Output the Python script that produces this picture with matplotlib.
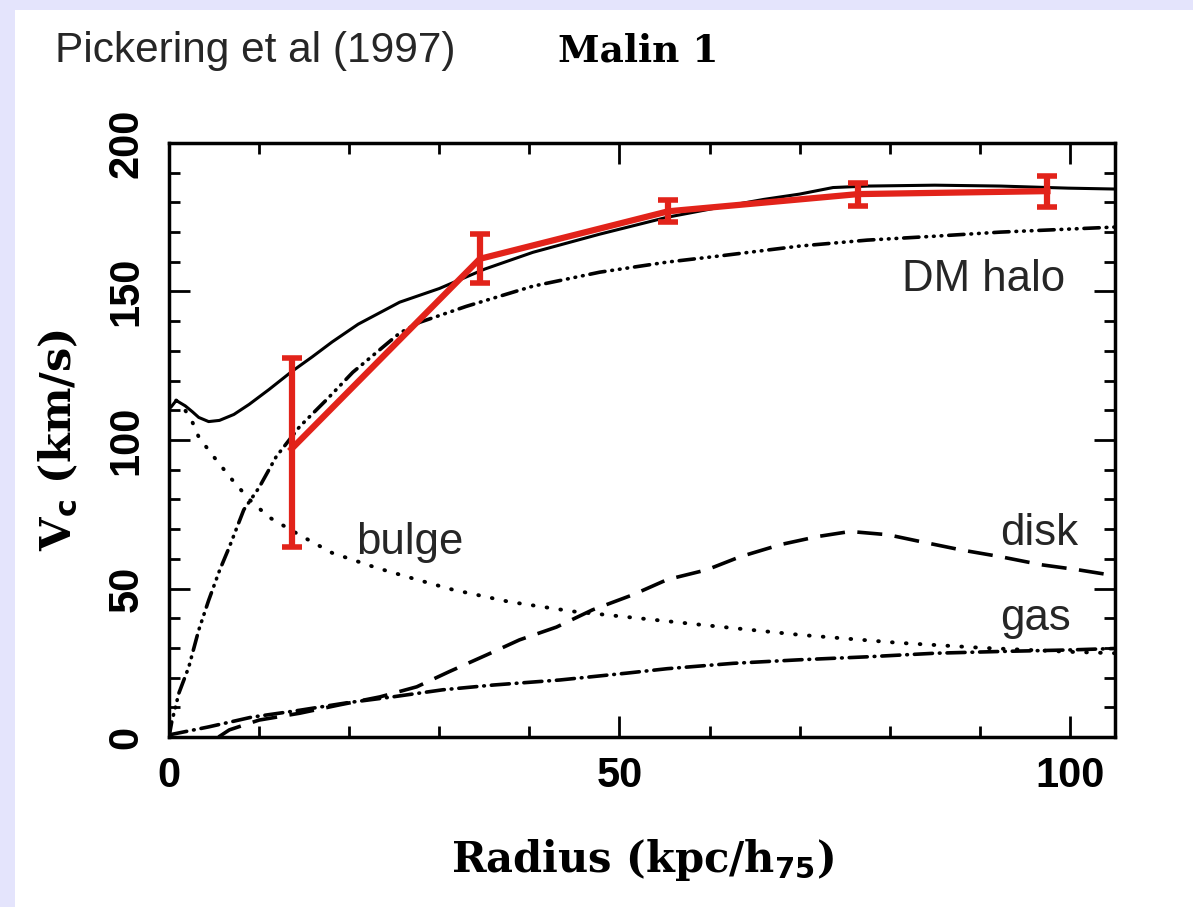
import matplotlib
matplotlib.use('Agg')
import matplotlib.pyplot as plt
from matplotlib.patches import Rectangle
from matplotlib.ticker import MultipleLocator

plt.rcParams['lines.scale_dashes'] = False   # dash lengths in points

# %% Data (radius in kpc/h75, velocity in km/s)
r_obs = [13.6, 34.5, 55.4, 76.5, 97.5]
v_obs = [97.0, 161.0, 177.0, 182.8, 183.8]
err_lo = [33.0, 8.0, 3.7, 4.0, 5.2]
err_hi = [30.5, 8.3, 3.8, 3.7, 5.2]

r_tot = [0.2, 0.8, 1.8, 2.6, 3.3, 4.4, 5.6, 7.2, 8.9, 11.1, 13.6, 15.9, 18.1, 21.0,
         25.6, 30.0, 35.0, 40.4, 47.8, 55.3, 61.2, 66.0, 70.0, 73.7, 77.5, 85.0,
         92.3, 99.8, 105.0]
v_tot = [111.0, 113.3, 111.5, 109.5, 107.6, 106.2, 106.6, 108.6, 112.0, 117.0, 123.0,
         128.0, 133.0, 139.0, 146.4, 151.0, 157.5, 163.2, 169.3, 175.0, 178.4, 181.0,
         182.8, 185.0, 185.5, 185.8, 185.5, 184.8, 184.5]

r_bulge = [0.8, 1.8, 2.6, 3.3, 4.8, 6.9, 8.9, 11.1, 14.5, 18.1, 23.0, 27.5, 31.5,
           37.8, 44.8, 53.7, 59.0, 70.0, 81.0, 90.4, 99.8, 105.0]
v_bulge = [113.3, 110.0, 106.0, 101.0, 95.0, 87.0, 80.0, 74.0, 68.0, 62.0, 57.0, 53.0,
           49.6, 45.5, 42.3, 39.5, 37.8, 34.4, 31.7, 30.0, 28.7, 28.2]

r_halo = [0.0, 0.3, 1.1, 2.2, 3.3, 4.4, 5.6, 6.7, 8.3, 10.0, 11.9, 14.5, 17.5, 20.4,
          25.6, 27.8, 33.0, 40.4, 47.8, 55.3, 61.2, 70.0, 77.5, 84.9, 92.3, 99.8, 105.0]
v_halo = [0.0, 5.0, 14.8, 23.6, 36.0, 46.0, 56.0, 64.0, 76.5, 84.0, 94.4, 104.5, 113.6,
          122.8, 136.0, 139.6, 145.0, 151.8, 156.5, 159.9, 162.0, 165.3, 167.3, 168.6,
          170.0, 171.0, 171.7]

r_disk = [5.5, 6.7, 10.0, 14.5, 18.9, 23.4, 27.5, 31.1, 35.3, 38.9, 43.0, 47.0, 51.5,
          55.3, 59.7, 63.4, 67.9, 72.0, 75.6, 79.8, 83.4, 87.9, 92.3, 96.8, 100.9, 105.0]
v_disk = [0.0, 2.4, 5.7, 8.0, 10.8, 13.5, 16.9, 22.0, 27.7, 32.7, 37.0, 42.8, 47.9,
          53.0, 56.3, 60.7, 64.8, 67.5, 69.2, 68.1, 65.8, 63.0, 60.7, 58.0, 56.3, 54.3]

r_gas = [0.0, 4.4, 9.2, 14.5, 19.7, 24.8, 30.4, 36.0, 43.4, 50.8, 55.3, 62.6, 70.0,
         77.5, 85.0, 92.3, 99.8, 105.0]
v_gas = [0.7, 3.4, 6.7, 9.0, 11.5, 13.5, 15.9, 17.5, 19.2, 21.5, 23.0, 24.8, 26.0,
         27.0, 28.2, 28.8, 29.3, 29.8]

# %% Figure
W, H = 1193, 907
fig = plt.figure(figsize=(W / 100, H / 100), dpi=100, facecolor='#e4e4fc')
fig.add_artist(Rectangle((15 / W, 0), 1, 1 - 10 / H, transform=fig.transFigure,
                         facecolor='white', edgecolor='none', zorder=-10))

ax = fig.add_axes([169 / W, 1 - 737 / H, (1115 - 169) / W, (737 - 143) / H])

lw = 2.2
ax.plot(r_tot, v_tot, color='black', lw=lw, solid_capstyle='round',
        solid_joinstyle='round')
ax.plot(r_bulge, v_bulge, color='black', lw=2.8, ls=(0, (0.5, 9.5)), dash_capstyle='round')
ax.plot(r_halo, v_halo, color='black', lw=2.6,
        ls=(0, (11, 5, 0.5, 5, 0.5, 5, 0.5, 5)), dash_capstyle='round')
ax.plot(r_disk, v_disk, color='black', lw=2.6, ls=(0, (18, 9)))
ax.plot(r_gas, v_gas, color='black', lw=2.6, ls=(0, (13, 5, 0.5, 5)), dash_capstyle='round')

red = '#e2231a'
ax.errorbar(r_obs, v_obs, yerr=[err_lo, err_hi], color=red, lw=4.5,
            elinewidth=4.5, capsize=7, capthick=4, zorder=5)

ax.set_xlim(0, 105)
ax.set_ylim(0, 200)
ax.xaxis.set_major_locator(MultipleLocator(50))
ax.xaxis.set_minor_locator(MultipleLocator(10))
ax.yaxis.set_major_locator(MultipleLocator(50))
ax.yaxis.set_minor_locator(MultipleLocator(10))
ax.tick_params(which='both', direction='in', top=True, right=True, width=2)
ax.tick_params(which='major', length=15)
ax.tick_params(which='minor', length=8)
ax.tick_params(axis='x', which='major', pad=14)
ax.tick_params(axis='y', which='major', pad=16)
for sp in ax.spines.values():
    sp.set_linewidth(2.5)

for lab in ax.get_xticklabels():
    lab.set_fontfamily('Liberation Sans')
    lab.set_fontsize(30)
    lab.set_fontweight('bold')
for lab in ax.get_yticklabels():
    lab.set_fontfamily('Liberation Sans')
    lab.set_fontsize(30)
    lab.set_fontweight('bold')
    lab.set_rotation(90)
    lab.set_va('center')

ax.set_xlabel(r'Radius (kpc/h$_{\mathbf{75}}$)', family='DejaVu Serif',
              fontweight='bold', fontsize=30)
ax.set_ylabel(r'V$_{\mathbf{c}}$ (km/s)', family='DejaVu Serif',
              fontweight='bold', fontsize=31)
ax.xaxis.set_label_coords(0.5, -0.168)
ax.yaxis.set_label_coords(-0.094, 0.5)

# curve labels
lab_kw = dict(family='Liberation Sans', fontsize=31.5, color='#262626', va='baseline')
ax.text(81.4, 150.3, 'DM halo', **lab_kw)
ax.text(20.8, 61.5, 'bulge', **lab_kw)
ax.text(92.3, 64.8, 'disk', **lab_kw)
ax.text(92.3, 36.0, 'gas', **lab_kw)

fig.text(55 / W, 1 - 51 / H, 'Pickering et al (1997)', family='Liberation Sans',
         fontsize=30.5, color='#262626', va='center')
fig.text(558 / W, 1 - 61 / H, 'Malin 1', family='DejaVu Serif', fontweight='bold',
         fontsize=27, va='baseline')

fig.savefig('out.png', dpi=100, facecolor=fig.get_facecolor())
